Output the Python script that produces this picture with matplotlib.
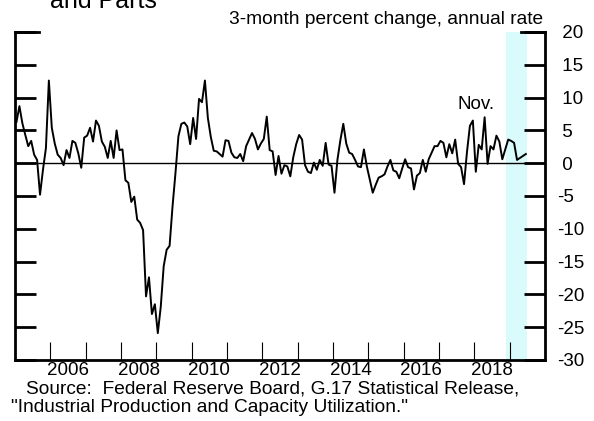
import numpy as np
import matplotlib
matplotlib.use("Agg")
from matplotlib import pyplot as plt

plt.rcParams['font.family'] = ['Liberation Sans', 'DejaVu Sans']

# monthly 3-month percent change, annual rate, Jan 2005 - Jun 2019
start_year = 2005
vals = [
    6.3, 8.7, 6.1, 4.3, 2.6, 3.4, 1.3, 0.5, -4.8, -1.0, 2.3, 12.6,
    5.4, 3.0, 1.3, 0.8, -0.3, 2.0, 0.8, 3.4, 3.1, 1.5, -0.7, 3.9,
    4.2, 5.4, 3.3, 6.5, 5.7, 3.3, 2.5, 0.8, 3.4, 0.8, 5.0, 2.0,
    2.1, -2.6, -3.0, -5.9, -5.1, -8.6, -9.1, -10.2, -20.3, -17.4, -23.0, -21.5,
    -25.9, -21.9, -15.7, -13.2, -12.6, -6.6, -1.5, 4.1, 6.0, 6.2, 5.6, 2.9,
    6.9, 3.7, 9.8, 9.3, 12.6, 6.9, 4.0, 1.9, 1.8, 1.4, 1.0, 3.5,
    3.4, 1.6, 0.9, 0.8, 1.4, 0.3, 2.6, 3.6, 4.6, 3.7, 2.1, 3.0,
    3.7, 7.1, 2.0, 1.8, -1.8, 1.1, -1.6, -0.3, -0.5, -2.0, 0.9, 2.9,
    4.3, 3.6, -0.3, -1.3, -1.5, 0.1, -1.0, 0.5, -0.4, 3.1, -0.2, -0.4,
    -4.5, 0.5, 3.5, 6.0, 3.0, 1.6, 1.4, 0.5, -0.5, -0.6, 2.1, -0.5,
    -2.5, -4.5, -3.3, -2.2, -2.0, -1.7, -0.5, 0.5, -1.1, -1.3, -2.3, -0.8,
    0.6, -0.6, -0.8, -4.0, -1.9, -1.5, 0.5, -1.3, 0.6, 1.6, 2.6, 2.6,
    3.4, 3.1, 0.9, 2.9, 1.5, 3.6, -0.1, -0.6, -3.2, 1.7, 5.7, 6.5,
    -1.3, 2.8, 2.1, 7.0, -0.1, 2.6, 2.1, 4.2, 3.3, 0.6, 2.1, 3.6,
    3.4, 3.1, 0.5, 0.8, 1.1, 1.4,
]
shade_start = 2018.9
shade_end = 2019.48
year_labels = [2006, 2008, 2010, 2012, 2014, 2016, 2018]
y_ticks = [-30, -25, -20, -15, -10, -5, 0, 5, 10, 15, 20]

dates = start_year + (np.arange(len(vals)) + 0.5) / 12.0

fig = plt.figure(figsize=(5.94, 4.21), dpi=100)
ax = fig.add_axes([15/594, 1-360/421, 530/594, 328/421])

ax.axvspan(shade_start, shade_end, color='#dafbfb', lw=0, zorder=0)
ax.axhline(0, color='black', lw=1.0, zorder=1)
ax.plot(dates, vals, color='black', lw=1.4, zorder=2)

ax.set_xlim(2005, 2020)
ax.set_ylim(-30, 20)

ax.spines['top'].set_visible(False)
for s in ['left', 'right', 'bottom']:
    ax.spines[s].set_linewidth(2.0)
# short stubs at the top corners
stub = 24 / 530
ax.plot([0, stub], [1, 1], transform=ax.transAxes, color='black', lw=2.0,
        clip_on=False, solid_capstyle='projecting')
ax.plot([1 - stub, 1], [1, 1], transform=ax.transAxes, color='black', lw=2.0,
        clip_on=False, solid_capstyle='projecting')

# y axis on both sides, labels right
ax.yaxis.set_ticks_position('both')
ax.set_yticks(y_ticks)
ax.set_yticklabels([(' ' if v >= 0 else '') + str(v) for v in y_ticks])
ax.tick_params(axis='y', direction='in', length=15, width=2.0,
               labelleft=False, labelright=True, labelsize=13.5, pad=8.5)
for lab in ax.get_yticklabels():
    lab.set_horizontalalignment('left')

# year ticks at year starts, labels at mid-year
ax.set_xticks(np.arange(2006, 2020))
ax.set_xticklabels([])
ax.tick_params(axis='x', which='major', direction='in', length=13, width=0.8)
ax.set_xticks([y + 0.5 for y in year_labels], minor=True)
ax.set_xticklabels([str(y) for y in year_labels], minor=True)
ax.tick_params(axis='x', which='minor', length=0, labelsize=13.5, pad=1.5)

ax.text(2018.05, 8.9, 'Nov.', fontsize=13.5, ha='center', va='center')

fig.text(543/594, 1-20/421, '3-month percent change, annual rate',
         fontsize=13.8, ha='right', va='center')
fig.text(50/594, 1-8/421, 'and Parts', fontsize=18, ha='left', va='baseline')
fig.text(26/594, 1-389/421, 'Source:  Federal Reserve Board, G.17 Statistical Release,',
         fontsize=13.8, ha='left', va='center')
fig.text(11/594, 1-408/421, '"Industrial Production and Capacity Utilization."',
         fontsize=13.8, ha='left', va='center')

fig.savefig('out.png', dpi=100)
